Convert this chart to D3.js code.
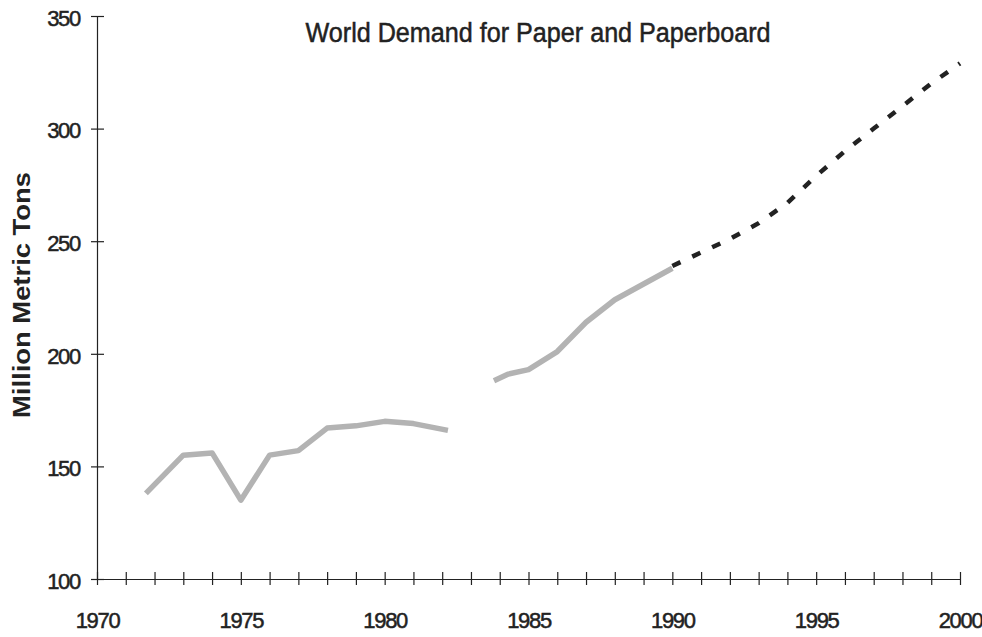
<!DOCTYPE html>
<meta charset="utf-8">
<head>
<title>World Demand for Paper and Paperboard</title>
<style>
body { margin: 0; background: #fff; }
.tick text { font-family: "Liberation Sans", Arial, sans-serif; font-size: 22px; letter-spacing: -1.3px; fill: #222; stroke: #222; stroke-width: 0.5; }
.axis path, .axis line { stroke: #222; stroke-width: 1.2; fill: none; }
</style>
</head>
<body>
<script src="https://d3js.org/d3.v7.min.js"></script>
<script>

// Data
var histYears1 = [1971.7, 1973, 1974, 1975, 1976, 1977, 1978, 1979, 1980, 1981, 1982.2];
var histValues1 = [138, 155, 156, 135, 155, 157, 167, 168, 170, 169, 166];
var histYears2 = [1983.8, 1984.3, 1985, 1986, 1987, 1988, 1989, 1990];
var histValues2 = [188, 191, 193, 201, 214, 224, 231, 238];
var projYears = [1990, 1991, 1992, 1993, 1994, 1995, 1996, 1997, 1998, 1999, 2000];
var projValues = [239, 245, 251, 258, 267, 279, 290, 300, 310, 320, 329];
var xTickLabels = [1970, 1975, 1980, 1985, 1990, 1995, 2000];
var yTickLabels = [100, 150, 200, 250, 300, 350];

var width = 982, height = 637;
var margin = {top: 16, right: 22, bottom: 58, left: 97};

var svg = d3.select("body").append("svg")
    .attr("width", width)
    .attr("height", height);

var x = d3.scaleLinear().domain([1970, 2000]).range([margin.left, width - margin.right]);
var y = d3.scaleLinear().domain([100, 350]).range([height - margin.bottom, margin.top]);

// X axis, ticks cross the axis line
var xAxis = svg.append("g")
    .attr("class", "axis")
    .attr("transform", "translate(0," + y(100) + ")")
    .call(d3.axisBottom(x).tickValues(d3.range(1970, 2001)).tickSize(6).tickSizeOuter(0)
        .tickFormat(function(d) { return xTickLabels.indexOf(d) >= 0 ? d : ""; }));
xAxis.selectAll(".tick line").attr("y1", -7).attr("y2", 6);
xAxis.selectAll(".tick text").attr("y", 41).attr("dy", "0.35em");

// Y axis
var yAxis = svg.append("g")
    .attr("class", "axis")
    .attr("transform", "translate(" + x(1970) + ",0)")
    .call(d3.axisLeft(y).tickValues(yTickLabels).tickSize(6).tickSizeOuter(0));
yAxis.selectAll(".tick line").attr("x1", 7).attr("x2", -6);
yAxis.selectAll(".tick text").attr("x", -17).attr("dy", "0.42em");

// Lines
var line = d3.line()
    .x(function(d) { return x(d[0]); })
    .y(function(d) { return y(d[1]); });

[[histYears1, histValues1], [histYears2, histValues2]].forEach(function(s) {
    svg.append("path")
        .datum(d3.zip(s[0], s[1]))
        .attr("d", line)
        .attr("fill", "none")
        .attr("stroke", "#b3b3b3")
        .attr("stroke-width", 5.5)
        .attr("stroke-linejoin", "round");
});

svg.append("path")
    .datum(d3.zip(projYears, projValues))
    .attr("d", line)
    .attr("fill", "none")
    .attr("stroke", "#222")
    .attr("stroke-width", 4.5)
    .attr("stroke-dasharray", "9,13");

// Title
svg.append("text")
    .attr("x", 538)
    .attr("y", 42)
    .attr("text-anchor", "middle")
    .attr("textLength", 465)
    .attr("lengthAdjust", "spacingAndGlyphs")
    .style("font-family", "Liberation Sans, Arial, sans-serif")
    .style("font-size", "27px")
    .style("fill", "#222")
    .style("stroke", "#222")
    .style("stroke-width", 0.5)
    .text("World Demand for Paper and Paperboard");

// Y axis title
svg.append("text")
    .attr("transform", "translate(30,295) rotate(-90)")
    .attr("text-anchor", "middle")
    .attr("textLength", 246)
    .attr("lengthAdjust", "spacingAndGlyphs")
    .style("font-family", "Liberation Sans, Arial, sans-serif")
    .style("font-size", "23px")
    .style("font-weight", "bold")
    .style("fill", "#222")
    .text("Million Metric Tons");

</script>
</body>
